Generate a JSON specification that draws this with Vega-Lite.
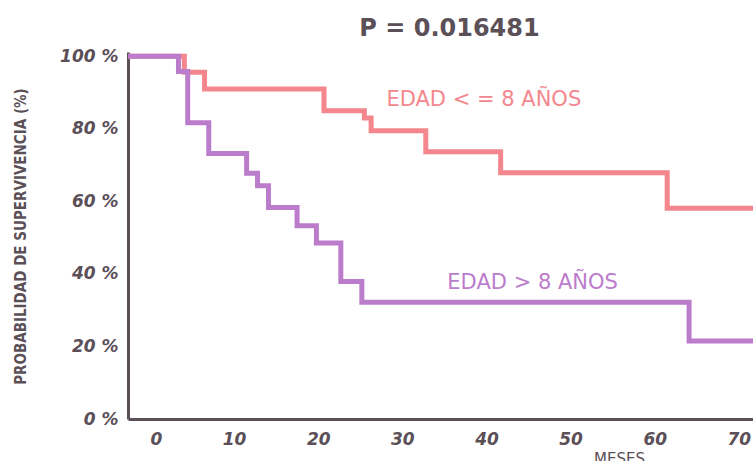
{
  "$schema": "https://vega.github.io/schema/vega-lite/v6.json",
  "width": 625,
  "height": 367,
  "autosize": {"type": "none"},
  "padding": {"left": 128, "top": 52, "right": 0, "bottom": 42},
  "background": "white",
  "config": {"view": {"stroke": null}},
  "title": {
    "text": "P = 0.016481",
    "font": "DejaVu Sans",
    "fontSize": 24,
    "fontWeight": "bold",
    "color": "#5b4f58",
    "anchor": "middle",
    "dx": 9,
    "offset": 6
  },
  "datasets": {
    "curves": [
      {"group": "le8", "meses": 0, "surv": 100},
      {"group": "le8", "meses": 6.7, "surv": 95.6},
      {"group": "le8", "meses": 9.1, "surv": 91.0},
      {"group": "le8", "meses": 23.3, "surv": 85.0},
      {"group": "le8", "meses": 28.1, "surv": 83.0},
      {"group": "le8", "meses": 28.9, "surv": 79.5},
      {"group": "le8", "meses": 35.4, "surv": 73.7},
      {"group": "le8", "meses": 44.3, "surv": 67.9},
      {"group": "le8", "meses": 64.1, "surv": 58.1},
      {"group": "le8", "meses": 74.3, "surv": 58.1},
      {"group": "gt8", "meses": 0, "surv": 100},
      {"group": "gt8", "meses": 6.0, "surv": 95.8},
      {"group": "gt8", "meses": 7.1, "surv": 81.7},
      {"group": "gt8", "meses": 9.6, "surv": 73.2},
      {"group": "gt8", "meses": 14.1, "surv": 67.8},
      {"group": "gt8", "meses": 15.4, "surv": 64.3},
      {"group": "gt8", "meses": 16.7, "surv": 58.3},
      {"group": "gt8", "meses": 20.1, "surv": 53.3},
      {"group": "gt8", "meses": 22.4, "surv": 48.5},
      {"group": "gt8", "meses": 25.3, "surv": 37.9},
      {"group": "gt8", "meses": 27.8, "surv": 32.2},
      {"group": "gt8", "meses": 66.7, "surv": 21.5},
      {"group": "gt8", "meses": 74.3, "surv": 21.5}
    ],
    "labels": [
      {"group": "le8", "meses": 42.3, "surv": 88.0, "label": "EDAD < = 8 AÑOS"},
      {"group": "gt8", "meses": 48.1, "surv": 37.4, "label": "EDAD > 8 AÑOS"}
    ]
  },
  "layer": [
    {
      "data": {"name": "curves"},
      "mark": {"type": "line", "interpolate": "step-after", "strokeWidth": 5, "clip": true},
      "encoding": {
        "x": {
          "field": "meses",
          "type": "quantitative",
          "scale": {"domain": [0, 74.3], "nice": false, "zero": false},
          "axis": {
            "title": "MESES",
            "titleFont": "DejaVu Sans",
            "titleFontSize": 15,
            "titleFontWeight": "normal",
            "titleColor": "#5b4f58",
            "titleX": 491,
            "titleY": 32,
            "titleBaseline": "top",
            "titleAlign": "center",
            "values": [0, 10, 20, 30, 40, 50, 60, 70],
            "labelFont": "DejaVu Sans",
            "labelFontSize": 17,
            "labelFontWeight": "bold",
            "labelFontStyle": "italic",
            "labelColor": "#5b4f58",
            "labelOffset": 22,
            "labelPadding": 12,
            "ticks": false,
            "grid": false,
            "domainColor": "#5b4f58",
            "domainWidth": 3
          }
        },
        "y": {
          "field": "surv",
          "type": "quantitative",
          "scale": {"domain": [0, 101.2], "nice": false},
          "axis": {
            "title": "PROBABILIDAD DE SUPERVIVENCIA (%)",
            "titleFont": "DejaVu Sans Condensed, Roboto, sans-serif",
            "titleFontSize": 15,
            "titleFontWeight": "bold",
            "titleColor": "#5b4f58",
            "titleAngle": 270,
            "titleX": -108,
            "titleY": 184,
            "titleAlign": "center",
            "titleBaseline": "middle",
            "values": [0, 20, 40, 60, 80, 100],
            "labelExpr": "datum.value + ' %'",
            "labelFont": "DejaVu Sans",
            "labelFontSize": 17,
            "labelFontWeight": "bold",
            "labelFontStyle": "italic",
            "labelColor": "#5b4f58",
            "labelPadding": 10,
            "ticks": false,
            "grid": false,
            "domainColor": "#5b4f58",
            "domainWidth": 3
          }
        },
        "color": {
          "field": "group",
          "type": "nominal",
          "scale": {"domain": ["le8", "gt8"], "range": ["#f4878e", "#bb7ccc"]},
          "legend": null
        },
        "order": {"field": "meses", "type": "quantitative"}
      }
    },
    {
      "data": {"name": "labels"},
      "mark": {"type": "text", "font": "DejaVu Sans", "fontSize": 21, "align": "center", "baseline": "middle"},
      "encoding": {
        "x": {"field": "meses", "type": "quantitative"},
        "y": {"field": "surv", "type": "quantitative"},
        "text": {"field": "label"},
        "color": {"field": "group", "type": "nominal", "legend": null}
      }
    }
  ]
}
